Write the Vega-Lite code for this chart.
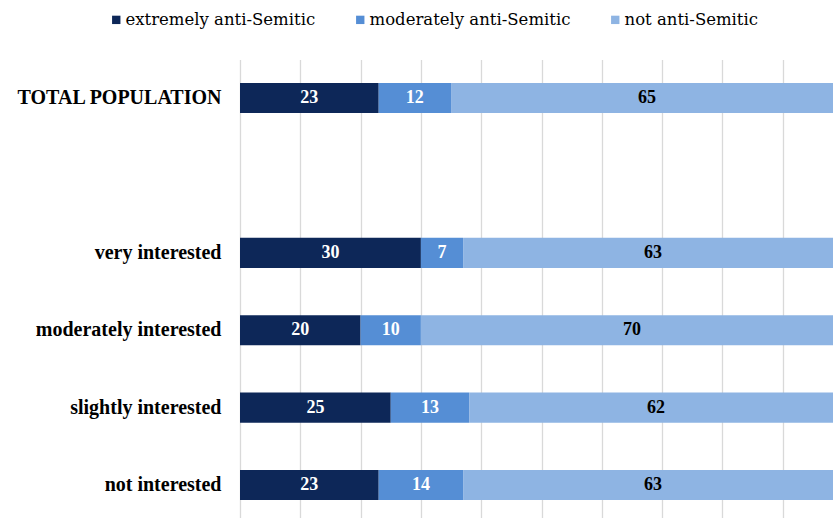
{
  "$schema": "https://vega.github.io/schema/vega-lite/v6.json",
  "autosize": "none",
  "padding": {"left": 240, "top": 59.5, "right": 0, "bottom": 0},
  "width": 593,
  "height": 458.5,
  "background": "white",
  "config": {
    "font": "Liberation Serif",
    "view": {"stroke": null},
    "legend": {"labelFont": "DejaVu Serif", "labelFontSize": 16.5, "labelColor": "#000000", "symbolSize": 70, "labelLimit": 400}
  },
  "data": {
    "values": [
      {"group": "TOTAL POPULATION", "cat": "extremely anti-Semitic", "o": 1, "value": 23},
      {"group": "TOTAL POPULATION", "cat": "moderately anti-Semitic", "o": 2, "value": 12},
      {"group": "TOTAL POPULATION", "cat": "not anti-Semitic", "o": 3, "value": 65},
      {"group": "very interested", "cat": "extremely anti-Semitic", "o": 1, "value": 30},
      {"group": "very interested", "cat": "moderately anti-Semitic", "o": 2, "value": 7},
      {"group": "very interested", "cat": "not anti-Semitic", "o": 3, "value": 63},
      {"group": "moderately interested", "cat": "extremely anti-Semitic", "o": 1, "value": 20},
      {"group": "moderately interested", "cat": "moderately anti-Semitic", "o": 2, "value": 10},
      {"group": "moderately interested", "cat": "not anti-Semitic", "o": 3, "value": 70},
      {"group": "slightly interested", "cat": "extremely anti-Semitic", "o": 1, "value": 25},
      {"group": "slightly interested", "cat": "moderately anti-Semitic", "o": 2, "value": 13},
      {"group": "slightly interested", "cat": "not anti-Semitic", "o": 3, "value": 62},
      {"group": "not interested", "cat": "extremely anti-Semitic", "o": 1, "value": 23},
      {"group": "not interested", "cat": "moderately anti-Semitic", "o": 2, "value": 14},
      {"group": "not interested", "cat": "not anti-Semitic", "o": 3, "value": 63}
    ]
  },
  "transform": [
    {"stack": "value", "groupby": ["group"], "sort": [{"field": "o"}], "as": ["x0", "x1"]},
    {"calculate": "(datum.x0 + datum.x1) / 2", "as": "xm"}
  ],
  "encoding": {
    "y": {
      "field": "group",
      "type": "nominal",
      "scale": {
        "domain": ["TOTAL POPULATION", " ", "very interested", "moderately interested", "slightly interested", "not interested"],
        "paddingInner": 0.61,
        "paddingOuter": 0.267,
        "align": 0.567
      },
      "axis": {
        "title": null,
        "domain": false,
        "ticks": false,
        "labelPadding": 19,
        "labelFontSize": 20,
        "labelFontWeight": "bold",
        "labelColor": "#000000",
        "labelFont": "Liberation Serif",
        "labelLimit": 400
      }
    }
  },
  "layer": [
    {
      "mark": {"type": "bar", "clip": true},
      "encoding": {
        "x": {
          "field": "x0",
          "type": "quantitative",
          "scale": {"domain": [0, 98.34], "nice": false, "zero": true},
          "axis": {
            "title": null,
            "labels": false,
            "ticks": false,
            "domain": false,
            "grid": true,
            "gridColor": "#D9D9D9",
            "gridWidth": 1.3,
            "values": [0, 10, 20, 30, 40, 50, 60, 70, 80, 90]
          }
        },
        "x2": {"field": "x1"},
        "color": {
          "field": "cat",
          "type": "nominal",
          "scale": {
            "domain": ["extremely anti-Semitic", "moderately anti-Semitic", "not anti-Semitic"],
            "range": ["#0D2758", "#558ED5", "#8EB4E3"]
          },
          "legend": {
            "title": null,
            "orient": "none",
            "legendX": -132,
            "legendY": -48,
            "direction": "horizontal",
            "symbolType": "square",
            "symbolSize": 70,
            "symbolStrokeWidth": 0,
            "labelFontSize": 16.5,
            "labelFont": "DejaVu Serif",
            "labelColor": "#000000",
            "labelOffset": 1,
            "columnPadding": 36,
            "labelLimit": 400
          }
        }
      }
    },
    {
      "mark": {"type": "text", "fontSize": 18, "fontWeight": "bold", "font": "Liberation Serif", "baseline": "middle", "align": "center"},
      "encoding": {
        "x": {"field": "xm", "type": "quantitative"},
        "text": {"field": "value", "type": "quantitative"},
        "color": {
          "condition": {"test": "datum.cat === 'not anti-Semitic'", "value": "#000000"},
          "value": "#FFFFFF"
        }
      }
    }
  ]
}
